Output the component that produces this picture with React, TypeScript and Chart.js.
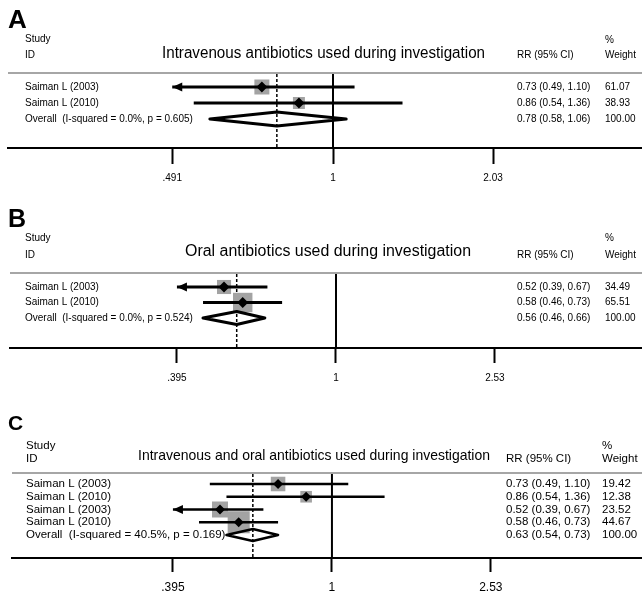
import React, { useEffect, useRef } from 'react';
import { Chart, registerables } from 'chart.js';
Chart.register(...registerables);

// ---------- Panel A ----------
const titleA = 'Intravenous antibiotics used during investigation';
const studiesA = ['Saiman L (2003)', 'Saiman L (2010)'];
const rrA = [0.73, 0.86];
const lowA = [0.49, 0.54];
const highA = [1.1, 1.36];
const weightA = [61.07, 38.93];
const overallA = [0.78, 0.58, 1.06]; // estimate, lower, upper
const overallWeightA = 100.0;
const overallLabelA = 'Overall  (I-squared = 0.0%, p = 0.605)';
const ticksA = [0.491, 1, 2.03];
const tickLabelsA = ['.491', '1', '2.03'];

// ---------- Panel B ----------
const titleB = 'Oral antibiotics used during investigation';
const studiesB = ['Saiman L (2003)', 'Saiman L (2010)'];
const rrB = [0.52, 0.58];
const lowB = [0.39, 0.46];
const highB = [0.67, 0.73];
const weightB = [34.49, 65.51];
const overallB = [0.56, 0.46, 0.66];
const overallWeightB = 100.0;
const overallLabelB = 'Overall  (I-squared = 0.0%, p = 0.524)';
const ticksB = [0.395, 1, 2.53];
const tickLabelsB = ['.395', '1', '2.53'];

// ---------- Panel C ----------
const titleC = 'Intravenous and oral antibiotics used during investigation';
const studiesC = ['Saiman L (2003)', 'Saiman L (2010)', 'Saiman L (2003)', 'Saiman L (2010)'];
const rrC = [0.73, 0.86, 0.52, 0.58];
const lowC = [0.49, 0.54, 0.39, 0.46];
const highC = [1.1, 1.36, 0.67, 0.73];
const weightC = [19.42, 12.38, 23.52, 44.67];
const overallC = [0.63, 0.54, 0.73];
const overallWeightC = 100.0;
const overallLabelC = 'Overall  (I-squared = 40.5%, p = 0.169)';
const ticksC = [0.395, 1, 2.53];
const tickLabelsC = ['.395', '1', '2.53'];

const FAM = '"Liberation Sans", Arial, sans-serif';

const layoutA = {
  top: 0, height: 195, letter: 'A', letterFont: `bold 26px ${FAM}`, letterY: 28,
  padLeft: 8, padTop: 73, axisH: 47, xRange: [0.2374, 3.924], yRange: [-0.875, 3.8125],
  font: `10px ${FAM}`, titleFont: `16px ${FAM}`, titleX: 162, titleW: 323, titleY: 54,
  studyY: 39, idY: 55, pctY: 40, headY: 55, labelX: 25, rrX: 517, wX: 605,
  boxK: 1.92, diamondH: 0.44, ciWidth: 3, markerR: 5.5, tickLen: 16, tickPad: 8, tickFont: 10,
};
const layoutB = {
  top: 195, height: 198, letter: 'B', letterFont: `bold 25px ${FAM}`, letterY: 32,
  padLeft: 10, padTop: 78, axisH: 45, xRange: [0.149, 5.972], yRange: [-0.903, 3.935],
  font: `10px ${FAM}`, titleFont: `16px ${FAM}`, titleX: 185, titleW: 286, titleY: 57,
  studyY: 43, idY: 60, pctY: 43, headY: 60, labelX: 25, rrX: 517, wX: 605,
  boxK: 2.4, diamondH: 0.42, ciWidth: 3, markerR: 5.5, tickLen: 15, tickPad: 9, tickFont: 10,
};
const layoutC = {
  top: 393, height: 200, letter: 'C', letterFont: `bold 21px ${FAM}`, letterY: 37,
  padLeft: 12, padTop: 80, axisH: 35, xRange: [0.1543, 6.117], yRange: [-0.863, 5.804],
  font: `11.5px ${FAM}`, titleFont: `15px ${FAM}`, titleX: 138, titleW: 352, titleY: 63,
  studyY: 53, idY: 66, pctY: 53, headY: 66, labelX: 26, rrX: 506, wX: 602,
  boxK: 3.3, diamondH: 0.47, ciWidth: 2.5, markerR: 5, tickLen: 14, tickPad: 8, tickFont: 12,
};

const PANELS = [
  { title: titleA, studies: studiesA, rr: rrA, low: lowA, high: highA, weight: weightA, overall: overallA, overallWeight: overallWeightA, overallLabel: overallLabelA, ticks: ticksA, tickLabels: tickLabelsA, L: layoutA },
  { title: titleB, studies: studiesB, rr: rrB, low: lowB, high: highB, weight: weightB, overall: overallB, overallWeight: overallWeightB, overallLabel: overallLabelB, ticks: ticksB, tickLabels: tickLabelsB, L: layoutB },
  { title: titleC, studies: studiesC, rr: rrC, low: lowC, high: highC, weight: weightC, overall: overallC, overallWeight: overallWeightC, overallLabel: overallLabelC, ticks: ticksC, tickLabels: tickLabelsC, L: layoutC },
];

const fmt = (e: number, l: number, h: number) => `${e.toFixed(2)} (${l.toFixed(2)}, ${h.toFixed(2)})`;

function makeChart(canvas: HTMLCanvasElement, P: any) {
  const L = P.L;
  const ln = Math.log;
  const n = P.studies.length;
  const axisMin = P.ticks[0];
  const axisMax = P.ticks[P.ticks.length - 1];
  const datasets: any[] = [];
  datasets.push({
    label: 'estimate', data: P.rr.map((v: number, i: number) => ({ x: ln(v), y: i })),
    pointStyle: 'rectRot', pointRadius: L.markerR, backgroundColor: '#000', borderWidth: 0, order: 0,
  });
  P.rr.forEach((_: number, i: number) => {
    datasets.push({
      label: 'ci' + i, showLine: true,
      data: [{ x: ln(Math.max(P.low[i], axisMin)), y: i }, { x: ln(Math.min(P.high[i], axisMax)), y: i }],
      borderColor: '#000', borderWidth: L.ciWidth, pointRadius: 0, borderCapStyle: 'butt', order: 1,
    });
  });
  datasets.push({
    label: 'weight', data: P.rr.map((v: number, i: number) => ({ x: ln(v), y: i })),
    pointStyle: 'rect', pointRadius: P.weight.map((w: number) => (L.boxK * Math.sqrt(w)) / Math.SQRT2),
    backgroundColor: '#a3a3a3', borderWidth: 0, order: 2,
  });
  const [oe, ol, oh] = P.overall;
  datasets.push({
    label: 'overall', showLine: true,
    data: [
      { x: ln(ol), y: n }, { x: ln(oe), y: n - L.diamondH }, { x: ln(oh), y: n },
      { x: ln(oe), y: n + L.diamondH }, { x: ln(ol), y: n },
    ],
    borderColor: '#000', borderWidth: L.ciWidth, pointRadius: 0, borderJoinStyle: 'round', borderCapStyle: 'round',
    fill: false, tension: 0, order: 1,
  });

  const forest = {
    id: 'forest',
    beforeDatasetsDraw(chart: any) {
      const { ctx, chartArea: a, scales } = chart;
      const x = scales.x;
      ctx.save();
      ctx.strokeStyle = '#a6a6a6';
      ctx.lineWidth = 2;
      ctx.beginPath();
      ctx.moveTo(a.left, a.top);
      ctx.lineTo(a.right, a.top);
      ctx.stroke();
      const x1 = x.getPixelForValue(0);
      ctx.strokeStyle = '#000';
      ctx.lineWidth = 2;
      ctx.beginPath();
      ctx.moveTo(x1, a.top + 1);
      ctx.lineTo(x1, a.bottom);
      ctx.stroke();
      const xo = x.getPixelForValue(ln(P.overall[0]));
      ctx.lineWidth = 1.5;
      ctx.setLineDash([3, 2]);
      ctx.beginPath();
      ctx.moveTo(xo, a.top + 1);
      ctx.lineTo(xo, a.bottom);
      ctx.stroke();
      ctx.restore();
    },
    afterDatasetsDraw(chart: any) {
      const { ctx, scales } = chart;
      const x = scales.x, y = scales.y;
      ctx.save();
      ctx.fillStyle = '#000';
      P.low.forEach((lo: number, i: number) => {
        if (lo < axisMin) {
          const tx = x.getPixelForValue(ln(axisMin));
          const ty = y.getPixelForValue(i);
          ctx.beginPath();
          ctx.moveTo(tx, ty);
          ctx.lineTo(tx + 10, ty - 4.5);
          ctx.lineTo(tx + 10, ty + 4.5);
          ctx.closePath();
          ctx.fill();
        }
      });
      ctx.restore();
    },
    afterDraw(chart: any) {
      const { ctx, scales } = chart;
      const y = scales.y;
      ctx.save();
      ctx.fillStyle = '#000';
      ctx.textBaseline = 'alphabetic';
      ctx.textAlign = 'left';
      ctx.font = L.letterFont;
      ctx.fillText(L.letter, 8, L.letterY);
      ctx.textBaseline = 'middle';
      ctx.font = L.font;
      ctx.fillText('Study', L.labelX, L.studyY);
      ctx.fillText('ID', L.labelX, L.idY);
      ctx.fillText('RR (95% CI)', L.rrX, L.headY);
      ctx.fillText('%', L.wX, L.pctY);
      ctx.fillText('Weight', L.wX, L.headY);
      P.studies.forEach((s: string, i: number) => {
        const yy = y.getPixelForValue(i);
        ctx.fillText(s, L.labelX, yy);
        ctx.fillText(fmt(P.rr[i], P.low[i], P.high[i]), L.rrX, yy);
        ctx.fillText(P.weight[i].toFixed(2), L.wX, yy);
      });
      const yo = y.getPixelForValue(n);
      ctx.fillText(P.overallLabel, L.labelX, yo);
      ctx.fillText(fmt(P.overall[0], P.overall[1], P.overall[2]), L.rrX, yo);
      ctx.fillText(P.overallWeight.toFixed(2), L.wX, yo);
      ctx.font = L.titleFont;
      ctx.fillText(P.title, L.titleX, L.titleY, L.titleW);
      ctx.restore();
    },
  };

  return new Chart(canvas, {
    type: 'scatter',
    data: { datasets },
    options: {
      animation: false,
      responsive: false,
      maintainAspectRatio: false,
      events: [],
      layout: { autoPadding: false, padding: { left: L.padLeft, right: 0, top: L.padTop, bottom: 0 } },
      plugins: { legend: { display: false }, tooltip: { enabled: false } },
      scales: {
        x: {
          type: 'linear',
          min: ln(L.xRange[0]),
          max: ln(L.xRange[1]),
          afterBuildTicks: (s: any) => {
            s.ticks = P.ticks.map((v: number) => ({ value: ln(v) }));
          },
          afterFit: (s: any) => {
            s.height = L.axisH;
            s.paddingLeft = 0;
            s.paddingRight = 0;
          },
          ticks: {
            callback: (_v: any, idx: number) => P.tickLabels[idx],
            font: { family: FAM, size: L.tickFont },
            color: '#000',
            padding: L.tickPad,
            maxRotation: 0,
            autoSkip: false,
          },
          grid: {
            display: true, drawOnChartArea: false, drawTicks: true,
            tickLength: L.tickLen, tickWidth: 2, tickColor: '#000',
          },
          border: { display: true, color: '#000', width: 2 },
        },
        y: { type: 'linear', display: false, reverse: true, min: L.yRange[0], max: L.yRange[1] },
      },
    },
    plugins: [forest],
  } as any);
}

function Panel({ P }: { P: any }) {
  const ref = useRef<HTMLCanvasElement>(null);
  useEffect(() => {
    if (!ref.current) return;
    const c = makeChart(ref.current, P);
    return () => c.destroy();
  }, [P]);
  return (
    <canvas
      ref={ref}
      width={642}
      height={P.L.height}
      style={{ position: 'absolute', left: 0, top: P.L.top, width: 642, height: P.L.height }}
    />
  );
}

export default function App() {
  return (
    <div style={{ position: 'absolute', left: 0, top: 0, width: 642, height: 593, background: '#fff' }}>
      {PANELS.map((P, i) => (
        <Panel key={i} P={P} />
      ))}
    </div>
  );
}
